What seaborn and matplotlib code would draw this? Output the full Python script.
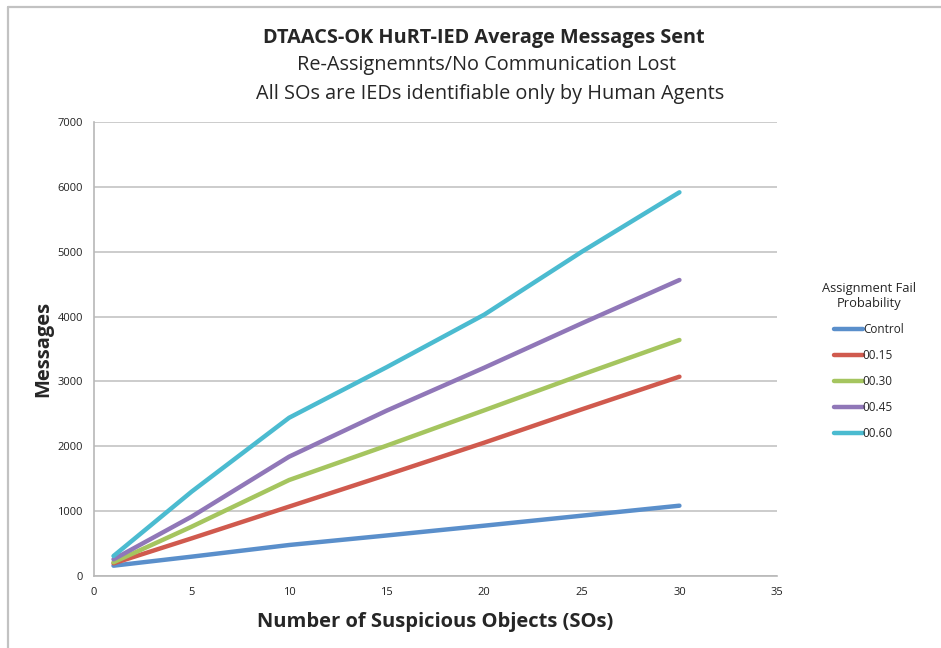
import matplotlib
matplotlib.use("Agg")
import matplotlib.pyplot as plt
from matplotlib.lines import Line2D
import pandas as pd
import seaborn as sns

# Number of suspicious objects (SOs)
so_counts = [1, 5, 10, 15, 20, 25, 30]

# Average messages sent per assignment-fail probability
control = [159, 298, 478, 625, 776, 930, 1084]
p015 = [195, 580, 1070, 1560, 2056, 2570, 3073]
p030 = [211, 760, 1480, 2010, 2555, 3104, 3639]
p045 = [257, 915, 1840, 2550, 3212, 3896, 4564]
p060 = [308, 1300, 2440, 3220, 4030, 5000, 5916]

series_names = ["Control", "00.15", "00.30", "00.45", "00.60"]
series_values = [control, p015, p030, p045, p060]
colors = ["#5A8FCB", "#D05A4E", "#A5C55F", "#9077B8", "#4BBBD0"]

x_ticks = [0, 5, 10, 15, 20, 25, 30, 35]
y_ticks = [0, 1000, 2000, 3000, 4000, 5000, 6000, 7000]

rows = []
for name, vals in zip(series_names, series_values):
    for x, y in zip(so_counts, vals):
        rows.append({"SOs": x, "Messages": y, "Probability": name})
df = pd.DataFrame(rows)

sns.set_theme(style="white")
plt.rcParams["font.family"] = ["Open Sans", "DejaVu Sans"]

fig = plt.figure(figsize=(9.41, 6.48), dpi=100)
ax = fig.add_axes([94 / 941, 1 - 576 / 648, (777 - 94) / 941, (576 - 122) / 648])

sns.lineplot(data=df, x="SOs", y="Messages", hue="Probability",
             hue_order=series_names, palette=colors, linewidth=3.2,
             solid_capstyle="round", solid_joinstyle="round",
             legend=False, ax=ax, zorder=3)

ax.set_xlim(0, 35)
ax.set_ylim(0, 7000)
ax.set_xticks(x_ticks)
ax.set_yticks(y_ticks)
ax.set_xticklabels([str(t) for t in x_ticks], fontsize=8)
ax.set_yticklabels([str(t) for t in y_ticks], fontsize=8)
ax.tick_params(axis="both", length=0, pad=8, colors="#222222")
ax.yaxis.grid(True, color="#c4c4c4", linewidth=1.2)
ax.xaxis.grid(False)
for side in ["top", "right"]:
    ax.spines[side].set_visible(False)
for side in ["left", "bottom"]:
    ax.spines[side].set_color("#b8b8b8")
    ax.spines[side].set_linewidth(1.2)

ax.set_xlabel("Number of Suspicious Objects (SOs)", fontsize=14.5,
              fontweight="bold", labelpad=10)
ax.set_ylabel("Messages", fontsize=14.5, fontweight="bold", labelpad=3)

# Title block
fig.text(484 / 941, 1 - 38 / 648, "DTAACS-OK HuRT-IED Average Messages Sent",
         ha="center", va="center", fontsize=14.3, fontweight="bold")
fig.text(486 / 941, 1 - 65 / 648, "Re-Assignemnts/No Communication Lost",
         ha="center", va="center", fontsize=14.3)
fig.text(490 / 941, 1 - 94 / 648, "All SOs are IEDs identifiable only by Human Agents",
         ha="center", va="center", fontsize=14.3)

# Legend
handles = [Line2D([0], [0], color=c, linewidth=3.2, solid_capstyle="round")
           for c in colors]
leg = fig.legend(handles, series_names, title="Assignment Fail\nProbability",
                 loc="center", bbox_to_anchor=(869 / 941, 1 - 361 / 648),
                 frameon=False, fontsize=8.5, title_fontsize=9.3,
                 handlelength=2.4, handletextpad=0.0, labelspacing=1.1)
leg.get_title().set_multialignment("center")

# Chart frame
fig.add_artist(Line2D([8 / 941, 8 / 941], [0, 1 - 7 / 648], transform=fig.transFigure,
                      color="#c2c2c2", linewidth=1.6))
fig.add_artist(Line2D([8 / 941, 1], [1 - 7 / 648, 1 - 7 / 648], transform=fig.transFigure,
                      color="#c2c2c2", linewidth=1.6))

fig.savefig("out.png", dpi=100)
